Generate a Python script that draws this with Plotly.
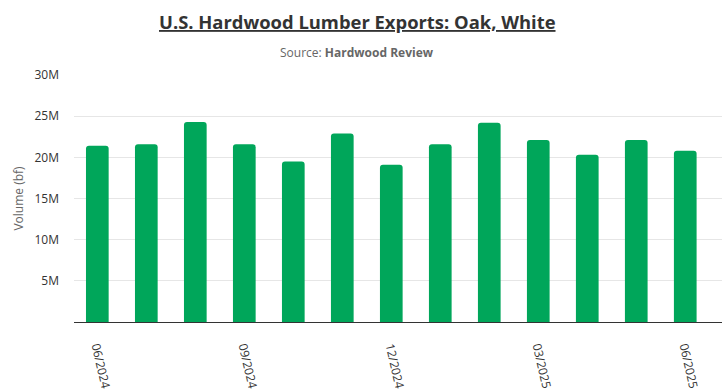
import plotly.graph_objects as go

months = ["06/2024", "07/2024", "08/2024", "09/2024", "10/2024", "11/2024", "12/2024",
          "01/2025", "02/2025", "03/2025", "04/2025", "05/2025", "06/2025"]
volume = [21.4e6, 21.6e6, 24.3e6, 21.6e6, 19.5e6, 22.9e6, 19.1e6,
          21.6e6, 24.2e6, 22.1e6, 20.3e6, 22.1e6, 20.8e6]
x_tick_labels = ["06/2024", "09/2024", "12/2024", "03/2025", "06/2025"]
y_tick_vals = [5e6, 10e6, 15e6, 20e6, 25e6, 30e6]
y_tick_text = ["5M", "10M", "15M", "20M", "25M", "30M"]

FONT = "Open Sans, Segoe UI, sans-serif"

fig = go.Figure(go.Bar(
    x=months, y=volume,
    marker=dict(color="#00A65A", cornerradius=3, line=dict(width=0)),
))

fig.update_layout(
    width=725, height=392,
    margin=dict(l=74, r=3, t=75, b=70),
    paper_bgcolor="white", plot_bgcolor="white",
    font=dict(family=FONT, color="#333333", size=12),
    bargap=0.537,
    showlegend=False,
    annotations=[
        dict(text="<b><u>U.S. Hardwood Lumber Exports: Oak, White</u></b>",
             xref="paper", yref="paper", x=0.437, y=1.2146, xanchor="center", yanchor="middle",
             showarrow=False, font=dict(size=18.4, color="#333333", family=FONT)),
        dict(text="Source: <b>Hardwood Review</b>",
             xref="paper", yref="paper", x=0.437, y=1.093, xanchor="center", yanchor="middle",
             showarrow=False, font=dict(size=12, color="#666666", family=FONT)),
    ],
    xaxis=dict(
        type="category",
        range=[-0.476, 12.75],
        tickmode="array", tickvals=x_tick_labels, ticktext=x_tick_labels,
        tickangle=77,
        showline=True, linecolor="#333333", linewidth=1,
        showgrid=False, ticks="",
        ticklabelstandoff=12,
        automargin=False,
        tickfont=dict(size=12, color="#333333"),
    ),
    yaxis=dict(
        range=[0, 30e6],
        tickmode="array", tickvals=y_tick_vals, ticktext=y_tick_text,
        showgrid=True, gridcolor="#e6e6e6", gridwidth=1,
        zeroline=False, showline=False, ticks="",
        ticklabelstandoff=14,
        automargin=False,
        tickfont=dict(size=12, color="#333333"),
        title=dict(text="Volume (bf)", font=dict(size=12, color="#666666"), standoff=8),
    ),
)

fig.write_html("out.html")
